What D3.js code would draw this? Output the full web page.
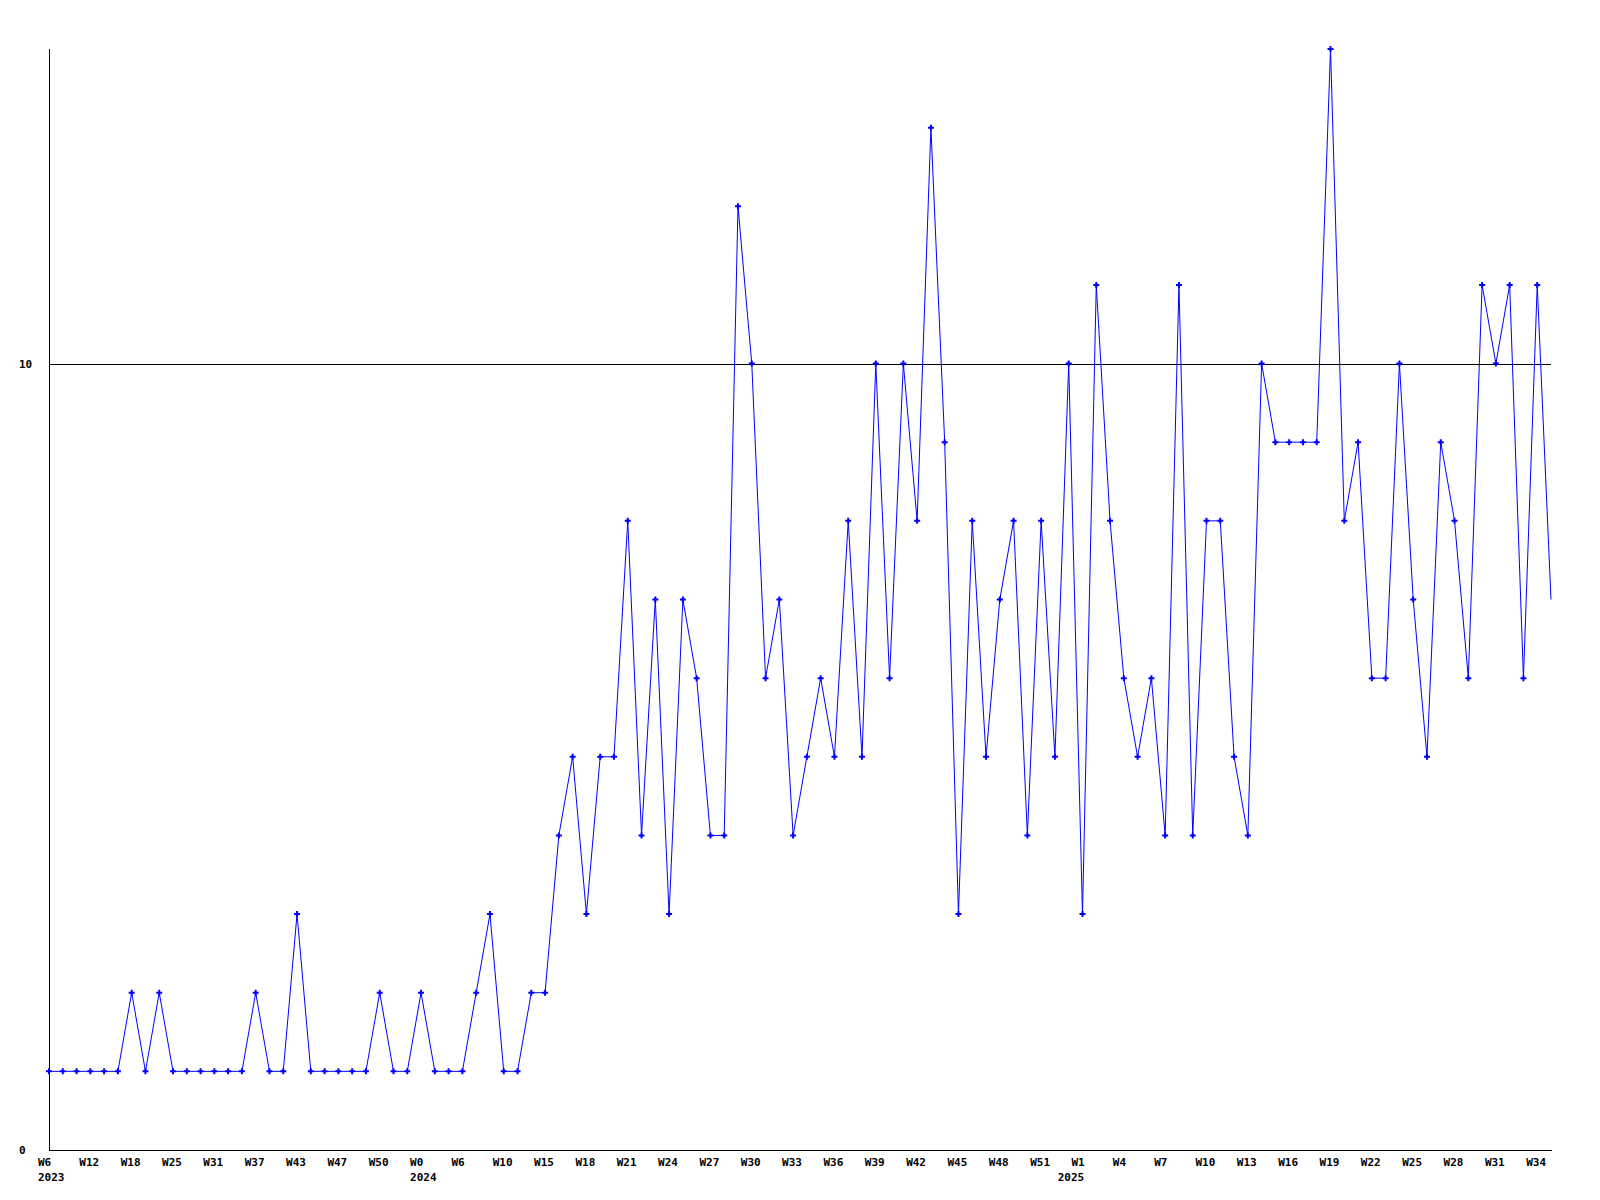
<!DOCTYPE html>
<html>
<head>
<meta charset="utf-8">
<script src="https://cdn.jsdelivr.net/npm/d3@7/dist/d3.min.js"></script>
<style>
  html, body { margin: 0; padding: 0; background: #ffffff; }
  svg { display: block; }
  text { font-family: "DejaVu Sans Mono", "Liberation Mono", monospace; font-weight: bold; font-size: 11px; fill: #000; }
</style>
</head>
<body>
<svg id="chart" width="1600" height="1200"></svg>
<script>
// ---- data ----
const values = [1,1,1,1,1,1,2,1,2,1,
                1,1,1,1,1,2,1,1,3,1,
                1,1,1,1,2,1,1,2,1,1,
                1,2,3,1,1,2,2,4,5,3,
                5,5,8,4,7,3,7,6,4,4,
                12,10,6,7,4,5,6,5,8,5,
                10,6,10,8,13,9,3,8,5,7,
                8,4,8,5,10,3,11,8,6,5,
                6,4,11,4,8,8,5,4,10,9,
                9,9,9,14,8,9,6,6,10,7,
                5,9,8,6,11,10,11,6,11,7];
const weekLabels = ["W6","W12","W18","W25","W31","W37","W43","W47","W50",
                    "W0","W6","W10","W15","W18","W21","W24","W27","W30","W33","W36","W39","W42","W45","W48","W51",
                    "W1","W4","W7","W10","W13","W16","W19","W22","W25","W28","W31","W34"];
const labelEvery = 3;
const yearLabels = ["2023","2024","2025"];
const yearPositions = [0, 27, 74];   // point index where each year label sits
const yTicks = [0, 10];
const yMax = 14;

(function () {
  const svg = d3.select("#chart");
  const mLeft = 49, mRight = 1551, mTop = 49, mBottom = 1150;

  const x = d3.scaleLinear().domain([0, values.length - 1]).range([mLeft, mRight]);
  const y = d3.scaleLinear().domain([0, yMax]).range([mBottom, mTop]);

  // grid line(s)
  svg.append("g").selectAll("line")
    .data(yTicks.filter(t => t !== 0))
    .join("line")
    .attr("x1", mLeft).attr("x2", mRight)
    .attr("y1", d => Math.round(y(d)) + 0.5).attr("y2", d => Math.round(y(d)) + 0.5)
    .attr("stroke", "#000").attr("stroke-width", 1)
    .attr("shape-rendering", "crispEdges");

  // axis lines
  svg.append("line")
    .attr("x1", mLeft + 0.5).attr("x2", mLeft + 0.5)
    .attr("y1", mTop).attr("y2", mBottom + 1)
    .attr("stroke", "#000").attr("shape-rendering", "crispEdges");
  svg.append("line")
    .attr("x1", mLeft).attr("x2", mRight + 1)
    .attr("y1", mBottom + 0.5).attr("y2", mBottom + 0.5)
    .attr("stroke", "#000").attr("shape-rendering", "crispEdges");

  // y tick labels (left-aligned)
  svg.append("g").selectAll("text")
    .data(yTicks)
    .join("text")
    .attr("x", 19)
    .attr("y", d => y(d) + 4)
    .text(d => d);

  // x week labels
  svg.append("g").selectAll("text")
    .data(weekLabels)
    .join("text")
    .attr("x", (d, i) => x(i * labelEvery) - 11)
    .attr("y", 1166)
    .text(d => d);

  // year labels
  svg.append("g").selectAll("text")
    .data(yearLabels)
    .join("text")
    .attr("x", (d, i) => x(yearPositions[i]) - 11)
    .attr("y", 1181)
    .text(d => d);

  // series line
  const line = d3.line().x((d, i) => x(i)).y(d => y(d));
  svg.append("path")
    .datum(values)
    .attr("d", line)
    .attr("fill", "none")
    .attr("stroke", "#0000ff")
    .attr("stroke-width", 1);

  // markers (last, incomplete point has none)
  const sym = d3.symbol().type(d3.symbolCross).size(20);
  svg.append("g").selectAll("path")
    .data(values.slice(0, values.length - 1))
    .join("path")
    .attr("d", sym)
    .attr("transform", (d, i) => `translate(${x(i)},${y(d)})`)
    .attr("fill", "#0000ff");
})();
</script>
</body>
</html>
